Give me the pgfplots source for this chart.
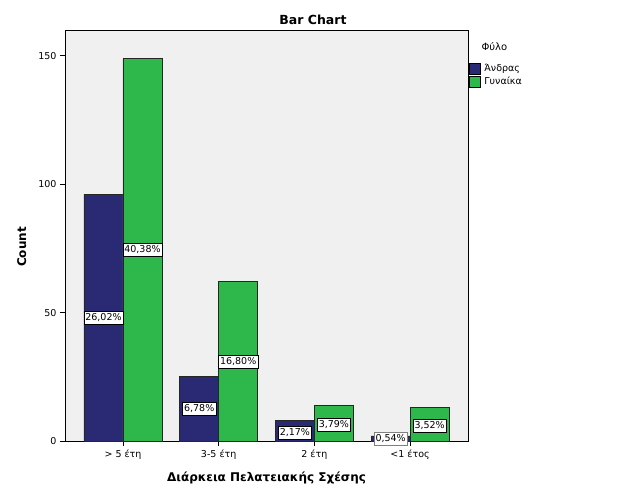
\documentclass[border=0pt]{standalone}
\usepackage{pgfplots}
\pgfplotsset{compat=1.18}
\usepackage{fontspec}
\setmainfont{DejaVu Sans}
\definecolor{navy}{RGB}{41,42,115}
\definecolor{grn}{RGB}{46,183,74}
\definecolor{bg}{RGB}{240,240,240}
\begin{document}
\begin{tikzpicture}[x=1pt,y=1pt]
\useasboundingbox (0,0) rectangle (626,501);
\begin{axis}[
  at={(65pt,60pt)}, anchor=south west,
  scale only axis, width=403pt, height=411pt,
  xmin=-0.606, xmax=3.605, ymin=0, ymax=160,
  axis background/.style={fill=bg},
  axis line style={black, line width=0.7pt},
  xtick={0,1,2,3}, xticklabels={> 5 έτη, 3-5 έτη, 2 έτη, <1 έτος},
  ytick={0,50,100,150},
  tick align=outside, xtick pos=bottom, ytick pos=left,
  major tick length=5pt,
  tick style={black, line width=0.6pt},
  /pgf/number format/assume math mode=true,
  ticklabel style={font=\fontsize{9.5}{11}\selectfont},
  xlabel={Διάρκεια Πελατειακής Σχέσης}, ylabel={Count},
  label style={font=\bfseries\fontsize{12}{14}\selectfont},
  xlabel style={at={(axis description cs:0.5,-0.09)}, anchor=center},
  ylabel style={at={(axis description cs:-0.107,0.472)}, anchor=center},
  legend style={at={(1,0.92)}, anchor=north west, draw=none, fill=none,
    font=\fontsize{9.5}{11}\selectfont, inner xsep=1pt, inner ysep=0pt,
    row sep=1pt, nodes={inner sep=0.5pt, text height=7.5pt, text depth=2.5pt}},
  legend cell align=left,
]
\addplot[ybar, bar width=39pt, bar shift=-19.5pt, fill=navy, draw=black!85, line width=0.7pt,
  legend image code/.code={\draw[fill=navy,draw=black] (0pt,-5.5pt) rectangle (11pt,5.5pt); \path (14pt,0pt);}]
  coordinates {(0,96) (1,25) (2,8) (3,2)};
\addlegendentry{Άνδρας}
\addplot[ybar, bar width=39pt, bar shift=19.5pt, fill=grn, draw=black!85, line width=0.7pt,
  legend image code/.code={\draw[fill=grn,draw=black] (0pt,-5.5pt) rectangle (11pt,5.5pt); \path (14pt,0pt);}]
  coordinates {(0,149) (1,62) (2,14) (3,13)};
\addlegendentry{Γυναίκα}
\addplot[draw=none, mark=none, forget plot, nodes near coords, point meta=explicit symbolic,
  nodes near coords style={anchor=center, xshift=-19.5pt, fill=white, draw=black,
    inner xsep=1.5pt, inner ysep=2.5pt, font=\fontsize{9.5}{11}\selectfont}]
  coordinates {(0,48)[26,02\%] (1,12.5)[6,78\%] (2,3.2)[2,17\%]};
\addplot[draw=none, mark=none, forget plot, nodes near coords, point meta=explicit symbolic,
  nodes near coords style={anchor=center, xshift=-19.5pt, fill=white, draw=gray,
    inner xsep=1.5pt, inner ysep=2.5pt, font=\fontsize{9.5}{11}\selectfont}]
  coordinates {(3,0.8)[0,54\%]};
\addplot[draw=none, mark=none, forget plot, nodes near coords, point meta=explicit symbolic,
  nodes near coords style={anchor=center, xshift=19.5pt, fill=white, draw=black,
    inner xsep=1.5pt, inner ysep=2.5pt, font=\fontsize{9.5}{11}\selectfont}]
  coordinates {(0,74.5)[40,38\%] (1,31)[16,80\%] (2,6.5)[3,79\%] (3,6)[3,52\%]};
\end{axis}
\node[font=\bfseries\fontsize{12.5}{14}\selectfont] at (313,481) {Bar Chart};
\node[font=\fontsize{10}{12}\selectfont, anchor=west] at (478,454) {Φύλο};
\end{tikzpicture}
\end{document}
